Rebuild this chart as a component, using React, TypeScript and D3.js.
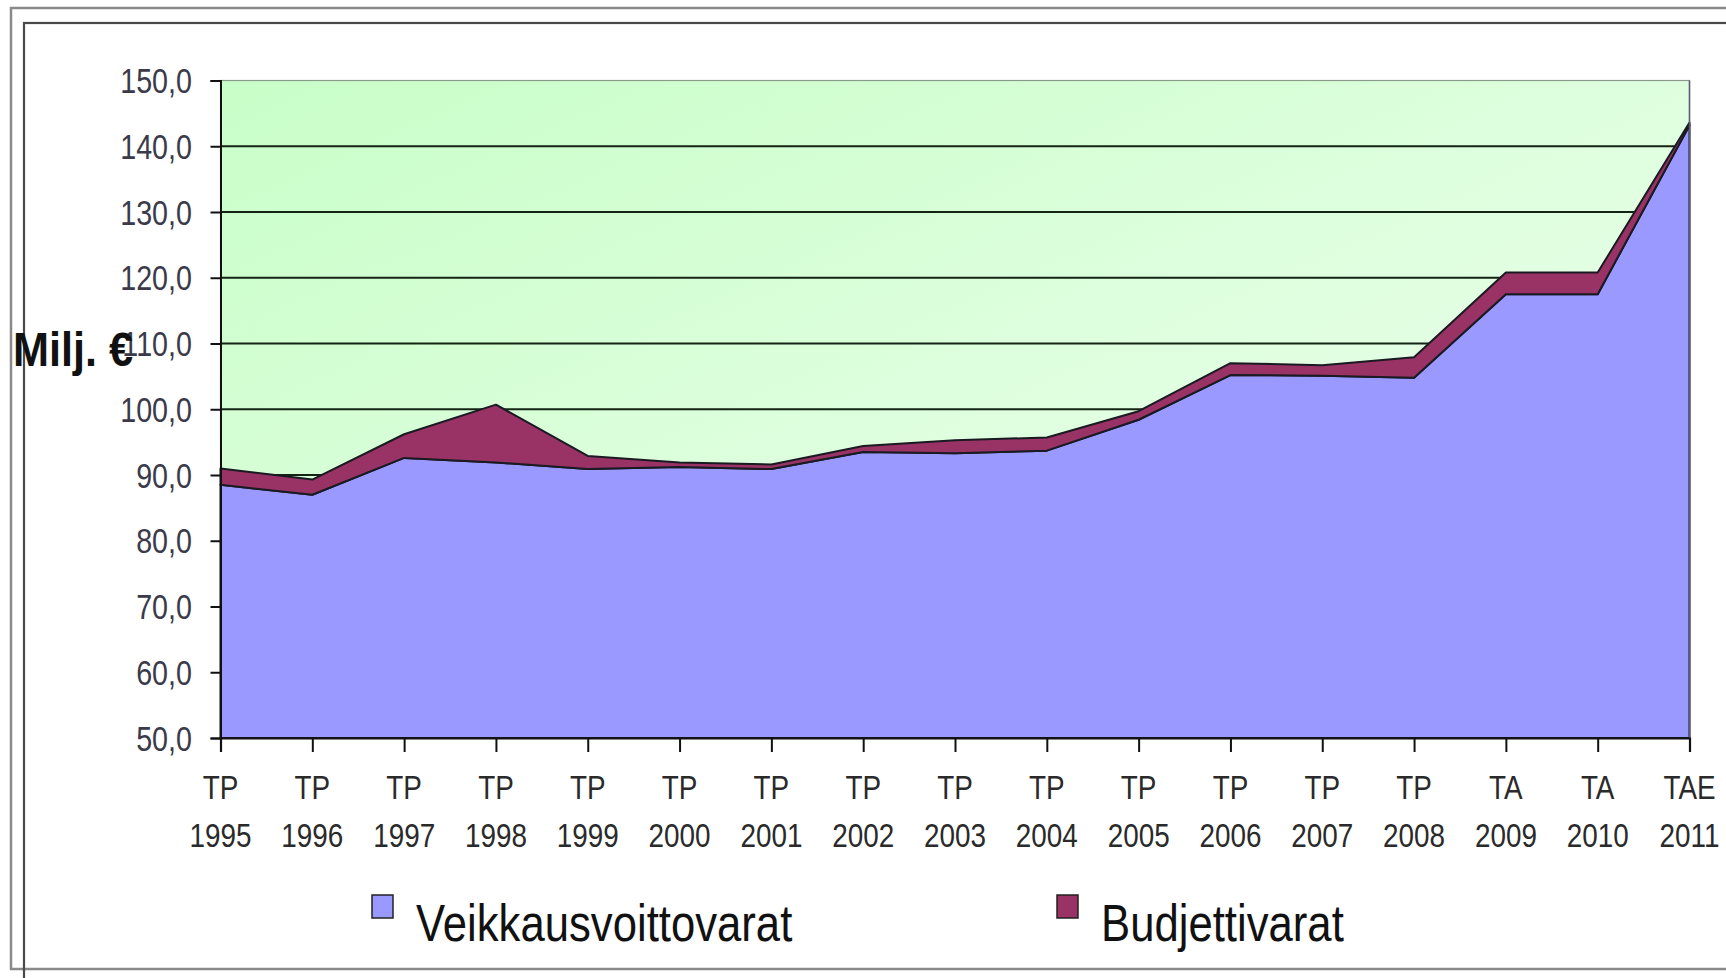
import React, { useEffect, useRef } from 'react';
import * as d3 from 'd3';

// Categories (two-line x labels)
const periods = ["TP", "TP", "TP", "TP", "TP", "TP", "TP", "TP", "TP", "TP", "TP", "TP", "TP", "TP", "TA", "TA", "TAE"];
const years = ["1995", "1996", "1997", "1998", "1999", "2000", "2001", "2002", "2003", "2004", "2005", "2006", "2007", "2008", "2009", "2010", "2011"];

// Series values, milj. €
const veikkausvoittovarat = [88.5, 87.0, 92.6, 91.9, 90.9, 91.2, 90.9, 93.5, 93.3, 93.7, 98.4, 105.2, 105.1, 104.8, 117.5, 117.5, 143.2];
const budjettivarat = [2.5, 2.3, 3.6, 8.8, 2.0, 0.7, 0.7, 0.9, 2.0, 2.0, 1.3, 1.8, 1.6, 3.1, 3.3, 3.3, 0.4];

// Y axis ticks
const yTicks = [50, 60, 70, 80, 90, 100, 110, 120, 130, 140, 150];

const seriesNames = ["Veikkausvoittovarat", "Budjettivarat"];
const seriesColors = ["#9999ff", "#993366"];

// no narrow font installed, so squeeze Liberation Sans horizontally
const FONT = "'Liberation Sans', Arial, sans-serif";
const SQUEEZE = 0.82;

const W = 1726;
const H = 978;
const plot = { left: 220.5, right: 1689.5, top: 80.5, bottom: 738 };

const fiLocale = d3.formatLocale({ decimal: ",", thousands: " ", grouping: [3], currency: ["", " €"] });
const fmt = fiLocale.format(".1f");

const App = () => {
  const ref = useRef<SVGSVGElement | null>(null);

  useEffect(() => {
    const svg = d3.select(ref.current);
    svg.selectAll("*").remove();

    const rows = years.map((y, i) => ({
      i,
      Veikkausvoittovarat: veikkausvoittovarat[i],
      Budjettivarat: budjettivarat[i]
    }));

    const x = d3.scalePoint<number>()
      .domain(rows.map(d => d.i))
      .range([plot.left, plot.right]);

    const y = d3.scaleLinear()
      .domain([50, 150])
      .range([plot.bottom, plot.top]);

    // Gradient for plot background
    const defs = svg.append("defs");
    const grad = defs.append("linearGradient")
      .attr("id", "bgGrad")
      .attr("x1", "0").attr("y1", "0")
      .attr("x2", "1").attr("y2", "1");
    grad.append("stop").attr("offset", "0%").attr("stop-color", "#c8fec8");
    grad.append("stop").attr("offset", "100%").attr("stop-color", "#f4fff4");

    // Outer frames
    svg.append("rect")
      .attr("x", 11).attr("y", 8)
      .attr("width", W + 20).attr("height", 961)
      .attr("fill", "none")
      .attr("stroke", "#8a8a8a")
      .attr("stroke-width", 2.5);

    svg.append("rect")
      .attr("x", 24).attr("y", 23)
      .attr("width", W + 20).attr("height", H + 20)
      .attr("fill", "none")
      .attr("stroke", "#4a4a4a")
      .attr("stroke-width", 2.2);

    // Plot background
    svg.append("rect")
      .attr("x", plot.left).attr("y", plot.top)
      .attr("width", plot.right - plot.left)
      .attr("height", plot.bottom - plot.top)
      .attr("fill", "url(#bgGrad)")
      .attr("stroke", "#8a9a8a")
      .attr("stroke-width", 1.2);

    // Gridlines
    svg.append("g")
      .selectAll("line")
      .data(yTicks.filter(t => t > 50 && t < 150))
      .enter().append("line")
      .attr("x1", plot.left).attr("x2", plot.right)
      .attr("y1", d => y(d)).attr("y2", d => y(d))
      .attr("stroke", "#142414")
      .attr("stroke-width", 2);

    // Stacked areas
    const stack = d3.stack<any>().keys(seriesNames);
    const layers = stack(rows);

    const area = d3.area<any>()
      .x(d => x(d.data.i) as number)
      .y0(d => y(d[0]))
      .y1(d => y(d[1]));

    // base of the first layer sits on the axis minimum
    const areaBase = d3.area<any>()
      .x(d => x(d.data.i) as number)
      .y0(y(50))
      .y1(d => y(d[1]));

    svg.append("g")
      .selectAll("path")
      .data(layers)
      .enter().append("path")
      .attr("d", (d, i) => (i === 0 ? areaBase(d) : area(d)) as string)
      .attr("fill", (d, i) => seriesColors[i])
      .attr("stroke", "#1a1a22")
      .attr("stroke-width", 2)
      .attr("stroke-linejoin", "round");

    // Right edge of plot
    svg.append("line")
      .attr("x1", plot.right).attr("x2", plot.right)
      .attr("y1", plot.top).attr("y2", plot.bottom)
      .attr("stroke", "#5a5a7a")
      .attr("stroke-width", 1.5);

    // Y axis (line + ticks)
    const yAxis = svg.append("g")
      .attr("transform", `translate(${plot.left},0)`)
      .call(d3.axisLeft(y).tickValues(yTicks).tickSize(10).tickFormat(() => ""));
    yAxis.select(".domain").attr("stroke", "#111").attr("stroke-width", 2);
    yAxis.selectAll(".tick line").attr("stroke", "#111").attr("stroke-width", 2);

    // Y tick labels
    svg.append("g")
      .selectAll("text")
      .data(yTicks)
      .enter().append("text")
      .attr("transform", d => `translate(192,${y(d)}) scale(${SQUEEZE},1)`)
      .attr("dy", "0.36em")
      .attr("text-anchor", "end")
      .attr("font-family", FONT)
      .attr("font-size", 35)
      .attr("fill", "#3a3a4a")
      .text(d => fmt(d));

    // X axis
    const xAxis = svg.append("g")
      .attr("transform", `translate(0,${plot.bottom})`)
      .call(d3.axisBottom(x).tickSize(14).tickFormat(() => ""));
    xAxis.select(".domain").attr("stroke", "#111").attr("stroke-width", 2.2);
    xAxis.selectAll(".tick line").attr("stroke", "#111").attr("stroke-width", 2);

    const xl = svg.append("g").attr("font-family", FONT).attr("font-size", 34)
      .attr("fill", "#2a2a2a").attr("text-anchor", "middle");
    xl.selectAll(".per")
      .data(rows)
      .enter().append("text")
      .attr("class", "per")
      .attr("transform", d => `translate(${x(d.i)},799) scale(${SQUEEZE},1)`)
      .text(d => periods[d.i]);
    xl.selectAll(".yr")
      .data(rows)
      .enter().append("text")
      .attr("class", "yr")
      .attr("transform", d => `translate(${x(d.i)},847) scale(${SQUEEZE},1)`)
      .text(d => years[d.i]);

    // Y axis title
    svg.append("text")
      .attr("transform", "translate(13,366) scale(0.9,1)")
      .attr("font-family", FONT)
      .attr("font-size", 48)
      .attr("font-weight", "bold")
      .attr("fill", "#111")
      .text("Milj. €");

    // Legend
    const legendPos = [372, 1057];
    const legend = svg.append("g");
    seriesNames.forEach((name, i) => {
      legend.append("rect")
        .attr("x", legendPos[i]).attr("y", 895)
        .attr("width", 21).attr("height", 23)
        .attr("fill", seriesColors[i])
        .attr("stroke", "#222")
        .attr("stroke-width", 1.5);
      legend.append("text")
        .attr("transform", `translate(${legendPos[i] + 44},941) scale(0.84,1)`)
        .attr("font-family", FONT)
        .attr("font-size", 52)
        .attr("fill", "#111")
        .text(name);
    });
  }, []);

  return (
    <svg ref={ref} width={W} height={H}
      style={{ position: 'absolute', left: 0, top: 0, background: '#fff' }} />
  );
};

export default App;
